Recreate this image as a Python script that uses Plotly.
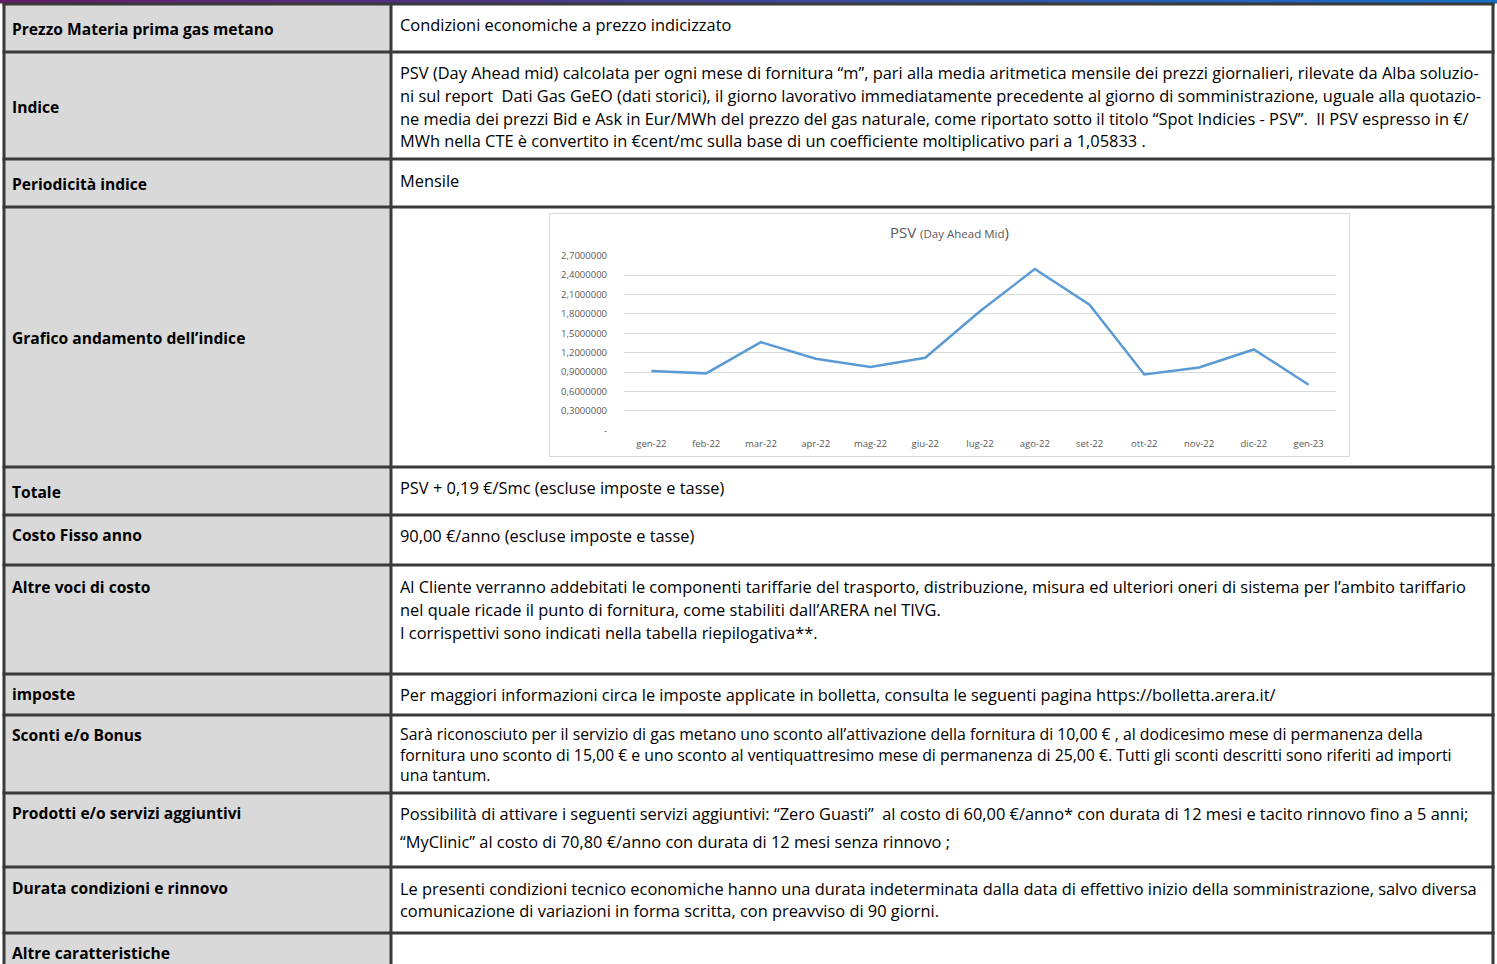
import plotly.graph_objects as go

# ---------------- data ----------------
months = ["gen-22", "feb-22", "mar-22", "apr-22", "mag-22", "giu-22", "lug-22",
          "ago-22", "set-22", "ott-22", "nov-22", "dic-22", "gen-23"]
psv = [0.916, 0.880, 1.363, 1.106, 0.977, 1.121, 1.840,
       2.495, 1.944, 0.864, 0.972, 1.250, 0.705]
y_tick_vals = [0, 0.3, 0.6, 0.9, 1.2, 1.5, 1.8, 2.1, 2.4, 2.7]
y_tick_text = ["-", "0,3000000", "0,6000000", "0,9000000", "1,2000000", "1,5000000",
               "1,8000000", "2,1000000", "2,4000000", "2,7000000"]
chart_title_main = "PSV"
chart_title_sub = "(Day Ahead Mid"

left_labels = [
    "Prezzo Materia prima gas metano",
    "Indice",
    "Periodicità indice",
    "Grafico andamento dell’indice",
    "Totale",
    "Costo Fisso anno",
    "Altre voci di costo",
    "imposte",
    "Sconti e/o Bonus",
    "Prodotti e/o servizi aggiuntivi",
    "Durata condizioni e rinnovo",
    "Altre caratteristiche",
]

right_texts = [
    ["Condizioni economiche a prezzo indicizzato"],
    ["PSV (Day Ahead mid) calcolata per ogni mese di fornitura “m”, pari alla media aritmetica mensile dei prezzi giornalieri, rilevate da Alba soluzio-",
     "ni sul report  Dati Gas GeEO (dati storici), il giorno lavorativo immediatamente precedente al giorno di somministrazione, uguale alla quotazio-",
     "ne media dei prezzi Bid e Ask in Eur/MWh del prezzo del gas naturale, come riportato sotto il titolo “Spot Indicies - PSV”.  Il PSV espresso in €/",
     "MWh nella CTE è convertito in €cent/mc sulla base di un coefficiente moltiplicativo pari a 1,05833 ."],
    ["Mensile"],
    [],
    ["PSV + 0,19 €/Smc (escluse imposte e tasse)"],
    ["90,00 €/anno (escluse imposte e tasse)"],
    ["Al Cliente verranno addebitati le componenti tariffarie del trasporto, distribuzione, misura ed ulteriori oneri di sistema per l’ambito tariffario",
     "nel quale ricade il punto di fornitura, come stabiliti dall’ARERA nel TIVG.",
     "I corrispettivi sono indicati nella tabella riepilogativa**."],
    ["Per maggiori informazioni circa le imposte applicate in bolletta, consulta le seguenti pagina https://bolletta.arera.it/"],
    ["Sarà riconosciuto per il servizio di gas metano uno sconto all’attivazione della fornitura di 10,00 € , al dodicesimo mese di permanenza della",
     "fornitura uno sconto di 15,00 € e uno sconto al ventiquattresimo mese di permanenza di 25,00 €. Tutti gli sconti descritti sono riferiti ad importi",
     "una tantum."],
    ["Possibilità di attivare i seguenti servizi aggiuntivi: “Zero Guasti”  al costo di 60,00 €/anno* con durata di 12 mesi e tacito rinnovo fino a 5 anni;",
     "“MyClinic” al costo di 70,80 €/anno con durata di 12 mesi senza rinnovo ;"],
    ["Le presenti condizioni tecnico economiche hanno una durata indeterminata dalla data di effettivo inizio della somministrazione, salvo diversa",
     "comunicazione di variazioni in forma scritta, con preavviso di 90 giorni."],
    [],
]

# ---------------- layout geometry (pixels) ----------------
W, H = 1497, 964
row_bounds = [4, 52, 159, 207, 467, 515, 565, 674, 715, 793, 867, 933]
left_y = [29, 107, 184, 338, 492, 535, 587, 694, 735, 813, 888, 953]
# right column: per row, list of line centres, or a single block centre (tight rows)
right_y = [[24], [72, 95, 118, 140], [180], [], [487], [535], [586, 609, 632],
           [694], None, [813, 841], [888, 910], []]
block_rows = {8: (754, 15.8)}  # row index -> (block centre y, font size)
X_LEFT, X_MID, X_RIGHT = 4, 391, 1493
FONT = "Open Sans"
BORDER = "#3a3a3a"

fig = go.Figure()

# line chart
fig.add_trace(go.Scatter(
    x=months, y=psv, mode="lines", xaxis="x2", yaxis="y2",
    line=dict(color="#5b9bd5", width=2.5), hoverinfo="x+y", showlegend=False))

shapes = []
# top gradient band
c0 = (0x66, 0x1a, 0x6a)
c1 = (0x16, 0x70, 0xc6)
n = 60
for i in range(n):
    t = i / (n - 1)
    col = "rgb(%d,%d,%d)" % tuple(int(c0[k] + (c1[k] - c0[k]) * t) for k in range(3))
    shapes.append(dict(type="rect", xref="x", yref="y", x0=W * i / n, x1=W * (i + 1) / n + 1,
                       y0=0, y1=3.5, fillcolor=col, line=dict(width=0), layer="below"))
# left column fill
shapes.append(dict(type="rect", xref="x", yref="y", x0=X_LEFT, x1=X_MID, y0=row_bounds[0], y1=H + 5,
                   fillcolor="#d9d9d9", line=dict(width=0), layer="below"))
# horizontal borders
for yb in row_bounds:
    shapes.append(dict(type="line", xref="x", yref="y", x0=X_LEFT - 1.5, x1=X_RIGHT + 1.5, y0=yb, y1=yb,
                       line=dict(color=BORDER, width=3), layer="above"))
# vertical borders
for xb in (X_LEFT, X_MID, X_RIGHT):
    shapes.append(dict(type="line", xref="x", yref="y", x0=xb, x1=xb, y0=row_bounds[0] - 1.5, y1=H + 5,
                       line=dict(color=BORDER, width=3), layer="above"))
# chart box
shapes.append(dict(type="rect", xref="x", yref="y", x0=549.5, x1=1349.5, y0=213.5, y1=456.5,
                   fillcolor="rgba(0,0,0,0)", line=dict(color="#d9d9d9", width=1), layer="below"))

annotations = []
for lab, yy in zip(left_labels, left_y):
    annotations.append(dict(xref="x", yref="y", x=10, y=yy, xanchor="left", yanchor="middle",
                            text="<b>%s</b>" % lab, showarrow=False,
                            font=dict(family=FONT, size=15.6, color="#000000")))
for ri, (lines, ys) in enumerate(zip(right_texts, right_y)):
    if ri in block_rows:
        yc, fs = block_rows[ri]
        annotations.append(dict(xref="x", yref="y", x=398, y=yc, xanchor="left", yanchor="middle",
                                align="left", text="<br>".join(lines), showarrow=False,
                                font=dict(family=FONT, size=fs, color="#000000")))
        continue
    for ln, yy in zip(lines, ys):
        annotations.append(dict(xref="x", yref="y", x=398, y=yy, xanchor="left", yanchor="middle",
                                text=ln, showarrow=False,
                                font=dict(family=FONT, size=16.4, color="#000000")))
# chart title
annotations.append(dict(xref="x", yref="y", x=949, y=232, xanchor="center", yanchor="middle",
                        text="%s <span style='font-size:11.5px'>%s</span>)" % (chart_title_main, chart_title_sub),
                        showarrow=False, font=dict(family="Open Sans", size=15, color="#595959")))

y_bot, y_top = 430.5, 255.5
fig.update_layout(
    width=W, height=H, margin=dict(l=0, r=0, t=0, b=0, pad=0, autoexpand=False),
    paper_bgcolor="white", plot_bgcolor="rgba(0,0,0,0)",
    shapes=shapes, annotations=annotations,
    xaxis=dict(range=[0, W], domain=[0, 1], visible=False, fixedrange=True, automargin=False),
    yaxis=dict(range=[H, 0], domain=[0, 1], visible=False, fixedrange=True, automargin=False),
    xaxis2=dict(domain=[624 / W, 1336 / W], anchor="y2", type="category", automargin=False,
                range=[-0.5, 12.5], showgrid=False, zeroline=False, showline=False,
                ticks="", ticklabelstandoff=6,
                tickfont=dict(family="Open Sans", size=9.5, color="#595959")),
    yaxis2=dict(domain=[1 - y_bot / H, 1 - y_top / H], anchor="x2", automargin=False,
                range=[-0.004, 2.704], tickvals=y_tick_vals, ticktext=y_tick_text,
                showgrid=True, gridcolor="#d9d9d9", gridwidth=1, zeroline=False, showline=False,
                ticks="", ticklabelstandoff=16,
                tickfont=dict(family="Open Sans", size=9.5, color="#595959")),
)

fig.write_html("out.html", config={"displayModeBar": False},
               post_script="document.body.style.margin='0';document.body.style.overflow='hidden';")
